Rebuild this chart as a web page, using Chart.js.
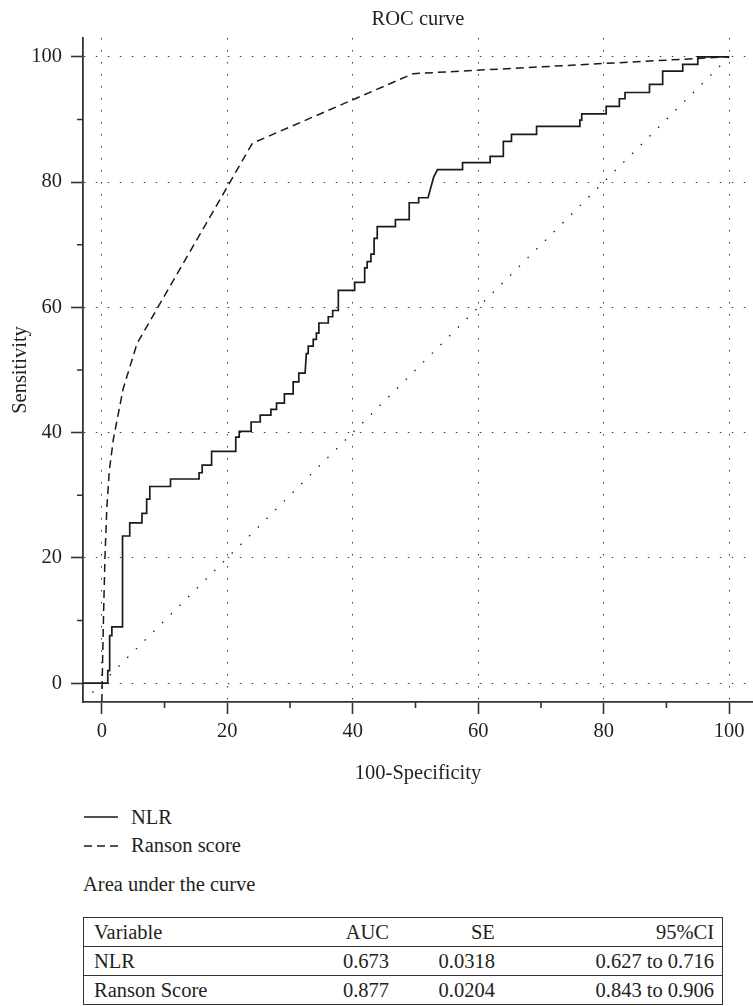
<!DOCTYPE html>
<html>
<head>
<meta charset="utf-8">
<title>ROC curve</title>
<script src="https://cdn.jsdelivr.net/npm/chart.js@4.4.0/dist/chart.umd.min.js"></script>
<style>
  body { margin: 0; background: #fff; font-family: 'Liberation Serif', 'Times New Roman', serif; color: #231f20; }
  #wrap { position: relative; width: 753px; height: 1006px; overflow: hidden; }
  #chartBox { position: absolute; left: 0; top: 0; width: 753px; height: 800px; }
  #legend { position: absolute; left: 84px; top: 803px; font-size: 20.5px; }
  .leg-item { display: flex; align-items: center; height: 28.5px; }
  .leg-item svg { margin-right: 13px; }
  #aucTitle { position: absolute; left: 83px; top: 871px; font-size: 20.5px; line-height: 26px; }
  #aucTable { position: absolute; left: 83px; top: 917px; width: 640px; border-collapse: collapse; font-size: 20.5px; }
  #aucTable td { height: 28px; padding: 0 8px 0 0; border: 1.8px solid #333; border-left: none; border-right: none; text-align: right; line-height: 28px; }
  #aucTable td:first-child { text-align: left; padding-left: 10px; border-left: 1.8px solid #333; }
  #aucTable td:last-child { border-right: 1.8px solid #333; }
</style>
</head>
<body>
<div id="wrap">
  <div id="chartBox"><canvas id="rocChart"></canvas></div>
  <div id="legend"></div>
  <div id="aucTitle">Area under the curve</div>
  <table id="aucTable">
    <colgroup><col style="width:217px"><col style="width:97px"><col style="width:106px"><col style="width:220px"></colgroup>
    <tbody></tbody>
  </table>
</div>
<script>
// NLR curve corners
const nlrX = [-3, 0.95, 0.95, 1.25, 1.25, 1.6, 1.6, 3.3, 3.3, 4.45, 4.45, 6.4, 6.4, 7.15, 7.15, 7.65, 7.65,
  10.95, 10.95, 15.5, 15.5, 16.0, 16.0, 17.5, 17.5, 21.35, 21.35, 21.9, 21.9, 23.8, 23.8, 25.25, 25.25,
  26.95, 26.95, 27.85, 27.85, 29.1, 29.1, 30.5, 30.5, 31.4, 31.4, 32.4, 32.6, 32.9, 32.9, 33.7, 33.7,
  34.2, 34.2, 34.6, 34.6, 36.1, 36.1, 36.8, 36.8, 37.7, 37.7, 40.3, 40.3, 41.9, 41.9, 42.3, 42.3,
  42.9, 42.9, 43.4, 43.4, 43.9, 43.9, 46.8, 46.8, 49.0, 49.0, 50.5, 50.5, 52.0, 52.9, 53.5, 57.5,
  57.5, 61.9, 61.9, 64.0, 64.0, 65.3, 65.3, 69.3, 69.3, 76.2, 76.2, 76.5, 76.5, 80.4, 80.4, 82.5,
  82.5, 83.4, 83.4, 87.3, 87.3, 89.4, 89.4, 92.6, 92.6, 95.0, 95.0, 100];
const nlrY = [0, 0, 2.0, 2.0, 7.6, 7.6, 9.0, 9.0, 23.5, 23.5, 25.6, 25.6, 27.1, 27.1, 29.4, 29.4, 31.4,
  31.4, 32.6, 32.6, 33.6, 33.6, 34.8, 34.8, 37.0, 37.0, 39.3, 39.3, 40.2, 40.2, 41.7, 41.7, 42.8,
  42.8, 43.7, 43.7, 44.7, 44.7, 46.2, 46.2, 48.1, 48.1, 49.5, 49.5, 52.6, 52.6, 53.8, 53.8, 54.9,
  54.9, 55.9, 55.9, 57.5, 57.5, 58.5, 58.5, 59.5, 59.5, 62.7, 62.7, 64.0, 64.0, 66.3, 66.3, 67.3,
  67.3, 68.5, 68.5, 71.0, 71.0, 72.9, 72.9, 74.0, 74.0, 76.7, 76.7, 77.5, 77.5, 80.8, 82.0, 82.0,
  83.1, 83.1, 84.1, 84.1, 86.5, 86.5, 87.6, 87.6, 88.9, 88.9, 89.9, 89.9, 90.9, 90.9, 92.1, 92.1,
  93.3, 93.3, 94.3, 94.3, 95.6, 95.6, 97.7, 97.7, 98.8, 98.8, 100, 100];

// Ranson score curve
const ransonX = [0, 0.15, 0.3, 0.5, 0.8, 1.2, 1.85, 3.4, 5.6, 24.0, 49.6, 100];
const ransonY = [-3, 5, 12, 20, 28, 34, 39, 47, 54.2, 86.2, 97.3, 100];

// reference diagonal
const refX = [-1.5, 100];
const refY = [-1.5, 100];

const seriesLabels = ['NLR', 'Ranson score'];
const labeledTicks = [0, 20, 40, 60, 80, 100];
const minorTicks = [10, 30, 50, 70, 90];

const aucHeader = ['Variable', 'AUC', 'SE', '95%CI'];
const aucRows = [
  ['NLR', '0.673', '0.0318', '0.627 to 0.716'],
  ['Ranson Score', '0.877', '0.0204', '0.843 to 0.906']
];

const textColor = '#231f20';
const axisColor = '#333333';
const gridColor = '#3c3c3c';
const fontFamily = "'Liberation Serif', 'Times New Roman', serif";
const baseFont = { family: fontFamily, size: 20.5 };

const toPoints = (xs, ys) => xs.map((x, i) => ({ x: x, y: ys[i] }));

const gridOpts = {
  color: (c) => (c.tick && labeledTicks.includes(c.tick.value)) ? gridColor : 'rgba(0,0,0,0)',
  lineWidth: 1,
  tickLength: 12,
  tickWidth: 1.6,
  tickColor: (c) => (c.tick && labeledTicks.includes(c.tick.value)) ? axisColor : 'rgba(0,0,0,0)'
};

const minorTickPlugin = {
  id: 'minorTicks',
  afterDraw(chart) {
    const ctx = chart.ctx;
    const xs = chart.scales.x;
    const ys = chart.scales.y;
    ctx.save();
    ctx.strokeStyle = axisColor;
    ctx.lineWidth = 1.6;
    ctx.beginPath();
    minorTicks.forEach(v => {
      const px = xs.getPixelForValue(v);
      ctx.moveTo(px, xs.top);
      ctx.lineTo(px, xs.top + 6);
      const py = ys.getPixelForValue(v);
      ctx.moveTo(ys.right - 6, py);
      ctx.lineTo(ys.right, py);
    });
    ctx.stroke();
    ctx.restore();
  }
};

const chart = new Chart(document.getElementById('rocChart'), {
  type: 'scatter',
  data: {
    datasets: [
      {
        label: seriesLabels[0],
        data: toPoints(nlrX, nlrY),
        showLine: true,
        borderColor: '#1a1a1a',
        borderWidth: 1.7,
        pointRadius: 0
      },
      {
        label: seriesLabels[1],
        data: toPoints(ransonX, ransonY),
        showLine: true,
        borderColor: '#1a1a1a',
        borderWidth: 1.5,
        borderDash: [8, 5],
        pointRadius: 0
      },
      {
        label: 'reference',
        data: toPoints(refX, refY),
        showLine: true,
        borderColor: '#1a1a1a',
        borderWidth: 1.3,
        borderDash: [1.5, 10.8],
        pointRadius: 0
      }
    ]
  },
  options: {
    responsive: true,
    maintainAspectRatio: false,
    animation: false,
    events: [],
    layout: { padding: 0 },
    plugins: {
      legend: { display: false },
      tooltip: { enabled: false },
      title: {
        display: true,
        text: 'ROC curve',
        fullSize: false,
        color: textColor,
        font: { family: fontFamily, size: 20.5, weight: 'normal' },
        padding: { top: 7, bottom: 6.4 }
      }
    },
    scales: {
      x: {
        type: 'linear',
        min: -3,
        max: 103.8,
        afterFit: (scale) => { scale.height = 98; },
        ticks: {
          stepSize: 10,
          includeBounds: false,
          autoSkip: false,
          maxRotation: 0,
          padding: 5,
          color: textColor,
          font: baseFont,
          callback: (v) => labeledTicks.includes(v) ? String(v) : ''
        },
        grid: gridOpts,
        border: { display: true, color: axisColor, width: 1.8, dash: [1.5, 10.5] },
        title: {
          display: true,
          text: '100-Specificity',
          color: textColor,
          font: baseFont,
          padding: { top: 0, bottom: 14 }
        }
      },
      y: {
        type: 'linear',
        min: -3,
        max: 103,
        afterFit: (scale) => { scale.width = 83; },
        ticks: {
          stepSize: 10,
          includeBounds: false,
          autoSkip: false,
          padding: 9,
          color: textColor,
          font: baseFont,
          callback: (v) => labeledTicks.includes(v) ? String(v) : ''
        },
        grid: gridOpts,
        border: { display: true, color: axisColor, width: 1.8, dash: [1.5, 10.5] },
        title: {
          display: true,
          text: 'Sensitivity',
          color: textColor,
          font: baseFont,
          padding: { top: 8, bottom: 0 }
        }
      }
    }
  },
  plugins: [minorTickPlugin]
});

// legend built from the chart's own datasets
const legendBox = document.getElementById('legend');
chart.data.datasets.slice(0, 2).forEach(ds => {
  const item = document.createElement('div');
  item.className = 'leg-item';
  const dash = ds.borderDash ? ds.borderDash.join(' ') : 'none';
  item.innerHTML = '<svg width="34" height="6"><line x1="0" y1="3" x2="34" y2="3" stroke="#1a1a1a" stroke-width="1.5" stroke-dasharray="' + dash + '"/></svg><span>' + ds.label + '</span>';
  legendBox.appendChild(item);
});

// AUC table
const tbody = document.querySelector('#aucTable tbody');
[aucHeader].concat(aucRows).forEach(row => {
  const tr = document.createElement('tr');
  row.forEach(cell => {
    const td = document.createElement('td');
    td.textContent = cell;
    tr.appendChild(td);
  });
  tbody.appendChild(tr);
});
</script>
</body>
</html>
